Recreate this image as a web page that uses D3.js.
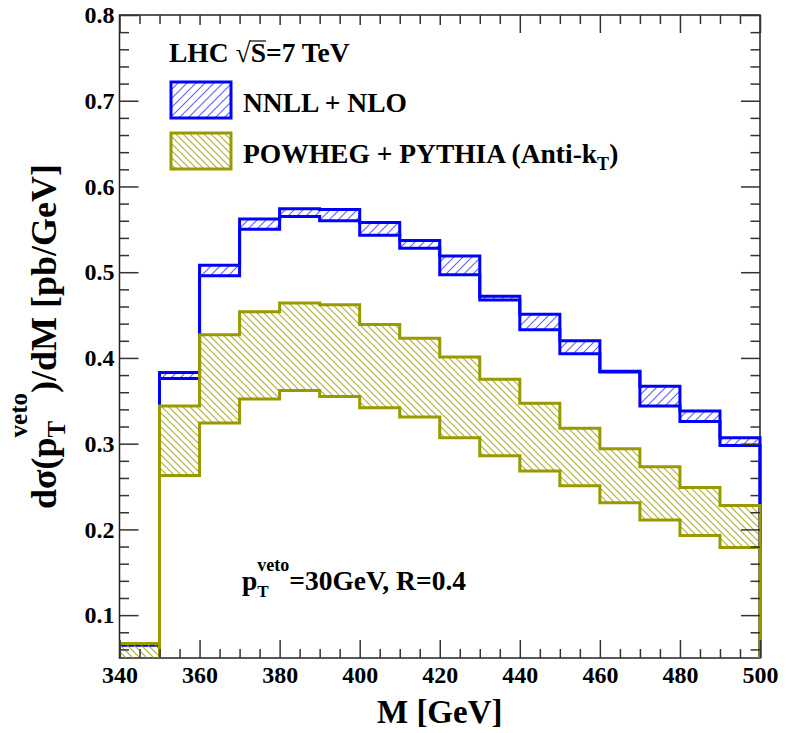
<!DOCTYPE html>
<html>
<head>
<meta charset="utf-8">
<script src="https://cdn.jsdelivr.net/npm/d3@7"></script>
<style>
  body { margin: 0; background: #fff; }
  text { font-family: "Liberation Serif", "Times New Roman", serif; font-weight: bold; fill: #000; }
</style>
</head>
<body>
<svg id="chart"></svg>
<script>
// bin edges in M [GeV]
const binEdges = [340, 350, 360, 370, 380, 390, 400, 410, 420, 430, 440, 450, 460, 470, 480, 490, 500];

// NNLL + NLO band (upper / lower edge per bin)
const nnllUpper = [0.066, 0.383, 0.508, 0.562, 0.574, 0.573, 0.558, 0.537, 0.519, 0.472, 0.451, 0.420, 0.3845, 0.367, 0.338, 0.307];
const nnllLower = [0.065, 0.376, 0.496, 0.550, 0.565, 0.560, 0.543, 0.528, 0.497, 0.4675, 0.433, 0.405, 0.3835, 0.344, 0.326, 0.298];

// POWHEG + PYTHIA band
const powhegUpper = [0.067, 0.344, 0.427, 0.454, 0.464, 0.462, 0.439, 0.423, 0.401, 0.375, 0.347, 0.318, 0.294, 0.273, 0.249, 0.228];
const powhegLower = [0.040, 0.263, 0.324, 0.352, 0.362, 0.355, 0.342, 0.331, 0.307, 0.286, 0.268, 0.251, 0.231, 0.211, 0.193, 0.179];

const xTicks = [340, 360, 380, 400, 420, 440, 460, 480, 500];
const yTicks = [0.1, 0.2, 0.3, 0.4, 0.5, 0.6, 0.7, 0.8];

const width = 789, height = 733;
const plotLeft = 119.5, plotRight = 760, plotTop = 15, plotBottom = 658;

const blue = "#0000ff";
const olive = "#999900";

const svg = d3.select("#chart").attr("width", width).attr("height", height);

const x = d3.scaleLinear().domain([340, 500]).range([plotLeft, plotRight]);
const y = d3.scaleLinear().domain([0.05, 0.8]).range([plotBottom, plotTop]);

// hatch patterns
const defs = svg.append("defs");
function hatch(id, size, color, forward, opacity) {
  const p = defs.append("pattern").attr("id", id)
    .attr("patternUnits", "userSpaceOnUse").attr("width", size).attr("height", size);
  const s = size;
  const d = forward
    ? `M-1,1 l2,-2 M0,${s} l${s},${-s} M${s - 1},${s + 1} l2,-2`
    : `M-1,${s - 1} l2,2 M0,0 l${s},${s} M${s - 1},-1 l2,2`;
  p.append("path").attr("d", d).attr("stroke", color).attr("stroke-width", 1.1)
    .attr("stroke-opacity", opacity).attr("fill", "none");
}
hatch("hatchBlue", 9, "#3a3aff", true, 0.8);
hatch("hatchOlive", 7, olive, false, 0.8);

defs.append("clipPath").attr("id", "plotClip")
  .append("rect").attr("x", plotLeft + 1).attr("y", plotTop)
  .attr("width", plotRight - plotLeft + 1).attr("height", plotBottom - plotTop);

// frame
svg.append("rect").attr("x", plotLeft).attr("y", plotTop)
  .attr("width", plotRight - plotLeft).attr("height", plotBottom - plotTop)
  .attr("fill", "none").attr("stroke", "#222").attr("stroke-width", 1.5);

// bands
function drawBand(upper, lower, color, pattern) {
  const pts = binEdges.map((e, i) => ({ x: e, hi: upper[Math.min(i, upper.length - 1)], lo: lower[Math.min(i, lower.length - 1)] }));
  const g = svg.append("g").attr("clip-path", "url(#plotClip)");
  const area = d3.area().curve(d3.curveStepAfter)
    .x(d => x(d.x)).y0(d => y(d.lo)).y1(d => y(d.hi));
  g.append("path").datum(pts).attr("d", area).attr("fill", `url(#${pattern})`);
  const line = d3.line().curve(d3.curveStepAfter).x(d => x(d.x)).y(d => y(d.v));
  [upper, lower].forEach(vals => {
    const lp = [{ x: 340, v: 0 }]
      .concat(binEdges.map((e, i) => ({ x: e, v: vals[Math.min(i, vals.length - 1)] })))
      .concat([{ x: 500, v: 0 }]);
    g.append("path").datum(lp).attr("d", line)
      .attr("fill", "none").attr("stroke", color).attr("stroke-width", 3);
  });
}
drawBand(nnllUpper, nnllLower, blue, "hatchBlue");
drawBand(powhegUpper, powhegLower, olive, "hatchOlive");

// axes with inward ticks
const axisColor = "#333";
function styleAxis(g) {
  g.select(".domain").remove();
  g.selectAll(".tick line").attr("stroke", axisColor).attr("stroke-width", 1.5);
  g.selectAll("text").style("font-size", "24px").style("font-family", "'Liberation Serif', serif")
    .style("font-weight", "bold").attr("fill", "#000");
}
const xMinor = d3.range(345, 500, 5).filter(v => v % 20 !== 0);
const yMinor = d3.range(6, 80, 2).map(v => v / 100).filter(v => Math.round(v * 100) % 10 !== 0);

svg.append("g").attr("transform", `translate(0,${plotBottom})`)
  .call(d3.axisBottom(x).tickValues(xTicks).tickSize(-18).tickPadding(8).tickFormat(d3.format("d")))
  .call(styleAxis);
svg.append("g").attr("transform", `translate(0,${plotBottom})`)
  .call(d3.axisBottom(x).tickValues(xMinor).tickSize(-9).tickFormat(""))
  .call(styleAxis);
svg.append("g").attr("transform", `translate(0,${plotTop})`)
  .call(d3.axisTop(x).tickValues(xTicks).tickSize(-18).tickFormat(""))
  .call(styleAxis);
svg.append("g").attr("transform", `translate(0,${plotTop})`)
  .call(d3.axisTop(x).tickValues(xMinor).tickSize(-9).tickFormat(""))
  .call(styleAxis);
svg.append("g").attr("transform", `translate(${plotLeft},0)`)
  .call(d3.axisLeft(y).tickValues(yTicks).tickSize(-19).tickPadding(5).tickFormat(d3.format(".1f")))
  .call(styleAxis);
svg.append("g").attr("transform", `translate(${plotLeft},0)`)
  .call(d3.axisLeft(y).tickValues(yMinor).tickSize(-9.5).tickFormat(""))
  .call(styleAxis);
svg.append("g").attr("transform", `translate(${plotRight},0)`)
  .call(d3.axisRight(y).tickValues(yTicks).tickSize(-19).tickFormat(""))
  .call(styleAxis);
svg.append("g").attr("transform", `translate(${plotRight},0)`)
  .call(d3.axisRight(y).tickValues(yMinor).tickSize(-9.5).tickFormat(""))
  .call(styleAxis);

// legend box (white, hides part of the top ticks)
svg.append("rect").attr("x", 142).attr("y", 25).attr("width", 363).attr("height", 165).attr("fill", "#fff");

// text made of runs: sub/superscripts, optionally stacked over the previous run
function richText(parent, runs, size) {
  const g = parent.append("g");
  let cx = 0, stackStart = 0;
  runs.forEach(r => {
    const fs = r.size || size;
    const x0 = (r.stack ? stackStart : cx) + (r.gap || 0);
    const t = g.append("text").attr("x", x0).attr("y", r.dy || 0)
      .style("font-size", fs + "px").text(r.text);
    const w = t.node().getComputedTextLength() + (r.gap || 0);
    if (r.stack) cx = Math.max(cx, stackStart + w);
    else { stackStart = cx; cx += w; }
  });
  return { g, width: cx };
}

// LHC sqrt(S)=7 TeV
const lhc = richText(svg, [{ text: "LHC" }, { text: "√", gap: 7 }, { text: "S" }, { text: "=7 TeV" }], 27.5);
lhc.g.attr("transform", "translate(169,62)");
{
  const texts = lhc.g.selectAll("text").nodes();
  const sx = +texts[2].getAttribute("x");
  const sw = texts[2].getComputedTextLength();
  lhc.g.append("line").attr("x1", sx - 1).attr("x2", sx + sw).attr("y1", -21).attr("y2", -21)
    .attr("stroke", "#000").attr("stroke-width", 1.2);
}

// legend entries
const legend = [
  { label: [{ text: "NNLL + NLO" }], color: blue, pattern: "hatchBlue", y: 82 },
  { label: [{ text: "POWHEG + PYTHIA (Anti-k" }, { text: "T", size: 18, dy: 7 }, { text: ")" }], color: olive, pattern: "hatchOlive", y: 133 }
];
legend.forEach(l => {
  svg.append("rect").attr("x", 171).attr("y", l.y).attr("width", 60).attr("height", 36)
    .attr("fill", `url(#${l.pattern})`).attr("stroke", l.color).attr("stroke-width", 3);
  const t = richText(svg, l.label, 27.5);
  t.g.attr("transform", `translate(243,${l.y + 29.5})`);
});

// annotation p_T^veto = 30GeV, R=0.4
const ann = richText(svg, [
  { text: "p" },
  { text: "T", size: 17, dy: 7 },
  { text: "veto", size: 18, dy: -19, stack: true },
  { text: "=30GeV, R=0.4" }
], 27.5);
ann.g.attr("transform", "translate(242,590)");

// axis titles
svg.append("text").attr("x", (plotLeft + plotRight) / 2).attr("y", 722.5)
  .attr("text-anchor", "middle").style("font-size", "33px").text("M [GeV]");

const yTitle = richText(svg, [
  { text: "dσ(p" },
  { text: "T", size: 25, dy: 9 },
  { text: "veto", size: 25, dy: -29, stack: true },
  { text: ")/dM [pb/GeV]" }
], 36);
yTitle.g.attr("transform", `translate(56,${(plotTop + plotBottom) / 2}) rotate(-90) translate(${-yTitle.width / 2},0)`);
</script>
</body>
</html>
